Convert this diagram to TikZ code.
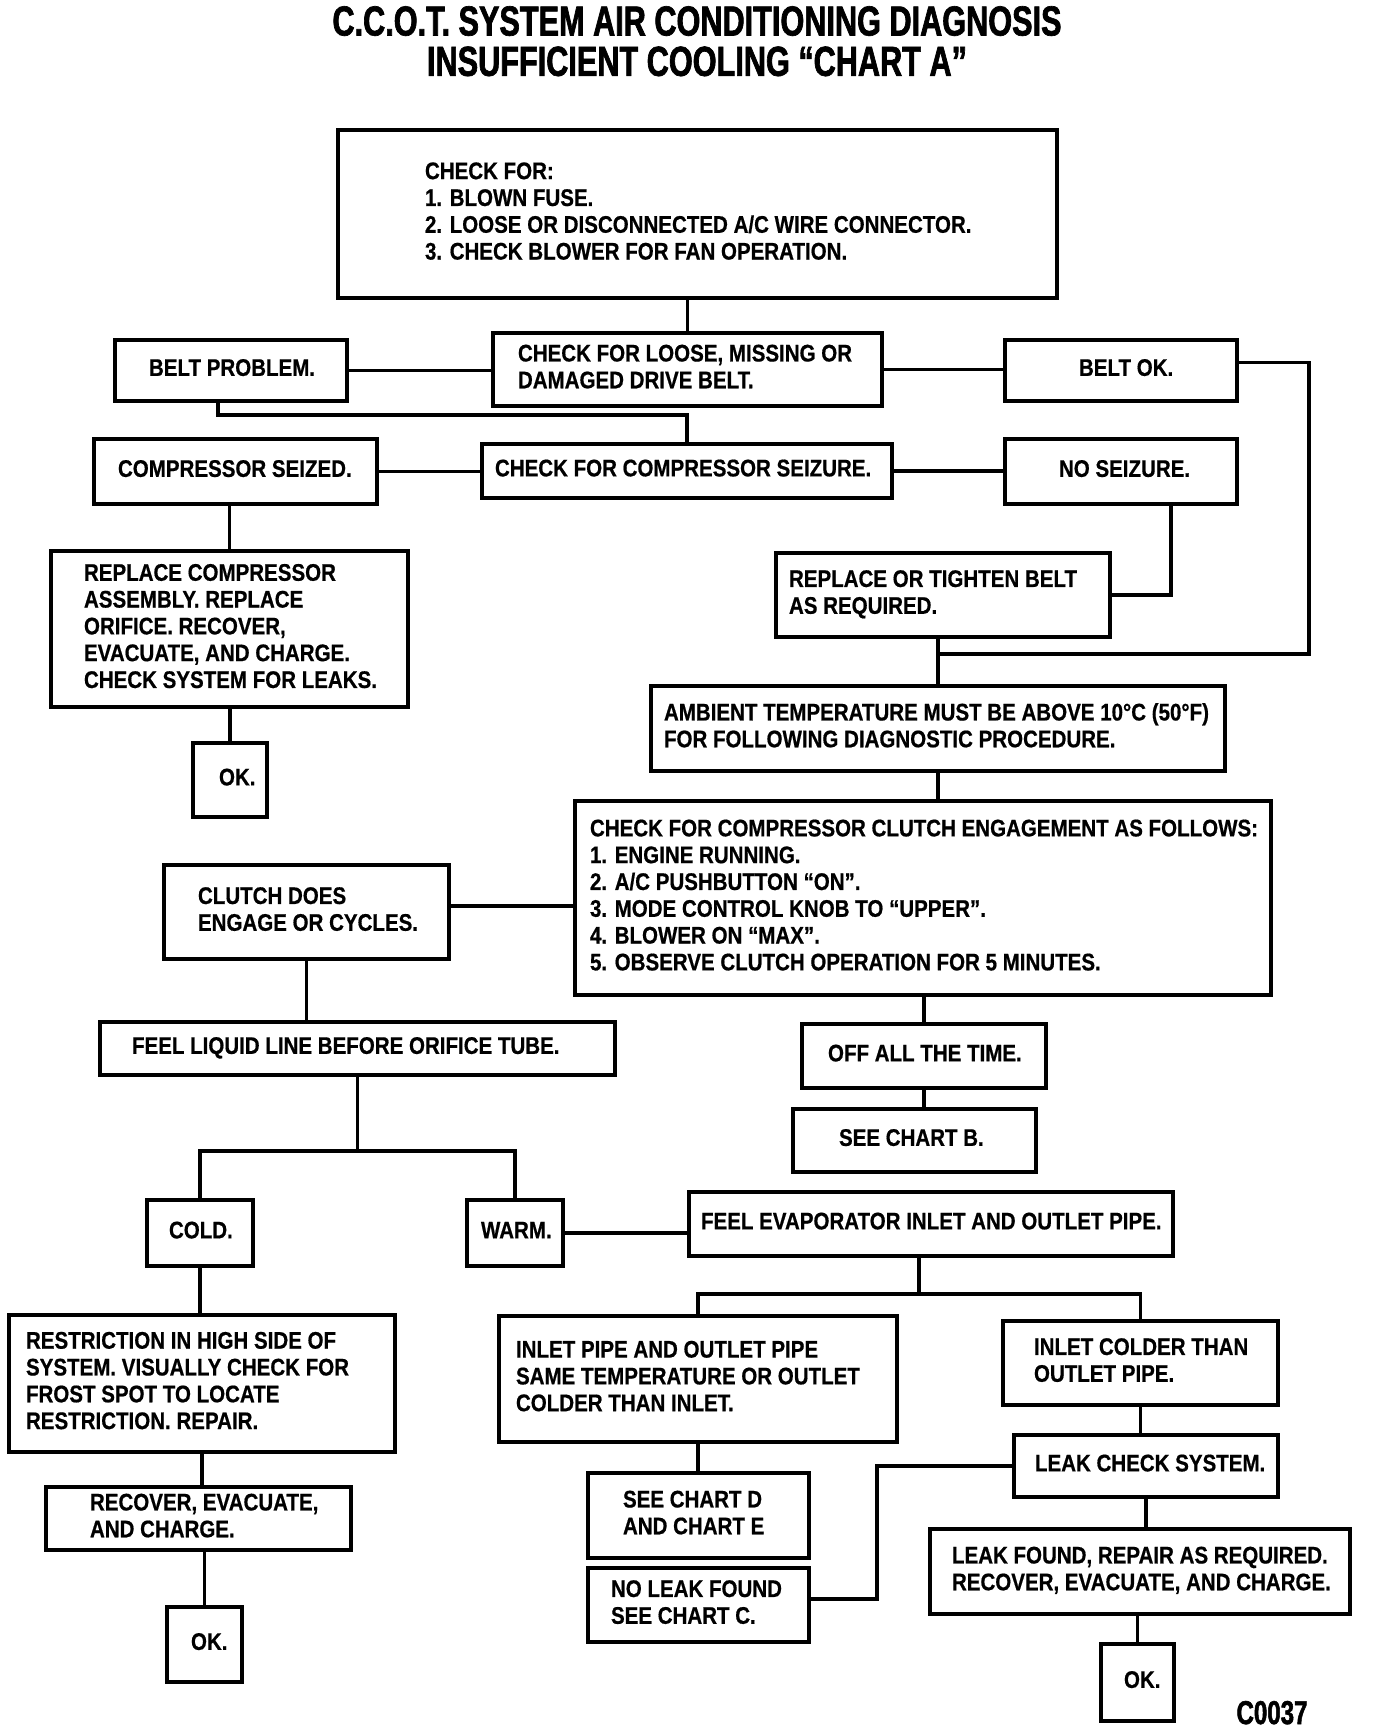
\documentclass[tikz,border=0pt]{standalone}
\usepackage{fontspec}
\newfontfamily\boxfont{Liberation Sans}[FakeStretch=0.855,FakeBold=0.6]
\newfontfamily\titlefont{Liberation Sans}[FakeStretch=0.73,FakeBold=1.6]
\newcommand\flowbox[7]{%
  \pgfmathsetmacro\bxw{#4-#2}%
  \pgfmathsetmacro\bxh{#5-#3}%
  \pgfmathsetmacro\bxcx{(#2+#4)/2}%
  \pgfmathsetmacro\bxcy{(#3+#5)/2}%
  \node[flow, minimum width=\bxw pt, minimum height=\bxh pt] (#1) at (\bxcx,\bxcy)
    {\makebox[\bxw pt][l]{\hspace*{#6pt}\begin{tabular}{@{}l@{}}#7\end{tabular}}};%
}
\begin{document}
\begin{tikzpicture}[x=1pt,y=-1pt,
  flow/.style={draw, line width=3.2pt, inner sep=0pt, font=\boxfont\bfseries\fontsize{24}{26.8}\selectfont},
  conn/.style={line width=3.2pt, line cap=rect},
  every node/.append style={text=black}]
\useasboundingbox (0,0) rectangle (1376,1730);
\fill[white] (0,0) rectangle (1376,1730);

\node[inner sep=0pt, font=\titlefont\bfseries\fontsize{42}{36.6}\selectfont] (title) at (697,46.5)
  {\begin{tabular}{@{}c@{}}C.C.O.T. SYSTEM AIR CONDITIONING DIAGNOSIS\\INSUFFICIENT COOLING “CHART A”\end{tabular}};

\flowbox{top}{338}{130}{1057}{298}{87}{CHECK FOR:\\1. BLOWN FUSE.\\2. LOOSE OR DISCONNECTED A/C WIRE CONNECTOR.\\3. CHECK BLOWER FOR FAN OPERATION.}
\flowbox{beltprob}{115}{340}{347}{401}{34}{BELT PROBLEM.}
\flowbox{chkbelt}{493}{333}{882}{406}{25}{CHECK FOR LOOSE, MISSING OR\\DAMAGED DRIVE BELT.}
\flowbox{beltok}{1005}{340}{1237}{401}{74}{BELT OK.}
\flowbox{compseiz}{94}{439}{377}{504}{24}{COMPRESSOR SEIZED.}
\flowbox{chkseiz}{482}{444}{892}{498}{13}{CHECK FOR COMPRESSOR SEIZURE.}
\flowbox{noseiz}{1005}{439}{1237}{504}{54}{NO SEIZURE.}
\flowbox{replcomp}{51}{551}{408}{707}{33}{REPLACE COMPRESSOR\\ASSEMBLY. REPLACE\\ORIFICE. RECOVER,\\EVACUATE, AND CHARGE.\\CHECK SYSTEM FOR LEAKS.}
\flowbox{okone}{193}{743}{267}{817}{26}{OK.}
\flowbox{replbelt}{776}{553}{1110}{637}{13}{REPLACE OR TIGHTEN BELT\\AS REQUIRED.}
\flowbox{ambient}{651}{686}{1225}{771}{13}{AMBIENT TEMPERATURE MUST BE ABOVE 10°C (50°F)\\FOR FOLLOWING DIAGNOSTIC PROCEDURE.}
\flowbox{clutch}{575}{801}{1271}{995}{15}{CHECK FOR COMPRESSOR CLUTCH ENGAGEMENT AS FOLLOWS:\\1. ENGINE RUNNING.\\2. A/C PUSHBUTTON “ON”.\\3. MODE CONTROL KNOB TO “UPPER”.\\4. BLOWER ON “MAX”.\\5. OBSERVE CLUTCH OPERATION FOR 5 MINUTES.}
\flowbox{clutchdoes}{164}{865}{449}{959}{34}{CLUTCH DOES\\ENGAGE OR CYCLES.}
\flowbox{feelliq}{100}{1022}{615}{1075}{32}{FEEL LIQUID LINE BEFORE ORIFICE TUBE.}
\flowbox{offall}{802}{1024}{1046}{1088}{26}{OFF ALL THE TIME.}
\flowbox{seeb}{793}{1109}{1036}{1172}{46}{SEE CHART B.}
\flowbox{cold}{147}{1200}{253}{1266}{22}{COLD.}
\flowbox{warm}{467}{1200}{563}{1266}{14}{WARM.}
\flowbox{feelevap}{689}{1192}{1173}{1256}{12}{FEEL EVAPORATOR INLET AND OUTLET PIPE.}
\flowbox{restr}{9}{1315}{395}{1452}{17}{RESTRICTION IN HIGH SIDE OF\\SYSTEM. VISUALLY CHECK FOR\\FROST SPOT TO LOCATE\\RESTRICTION. REPAIR.}
\flowbox{inletsame}{499}{1316}{897}{1442}{17}{INLET PIPE AND OUTLET PIPE\\SAME TEMPERATURE OR OUTLET\\COLDER THAN INLET.}
\flowbox{inletcold}{1003}{1321}{1278}{1405}{31}{INLET COLDER THAN\\OUTLET PIPE.}
\flowbox{leakchk}{1014}{1435}{1278}{1497}{21}{LEAK CHECK SYSTEM.}
\flowbox{recov}{46}{1487}{351}{1550}{44}{RECOVER, EVACUATE,\\AND CHARGE.}
\flowbox{seed}{588}{1473}{809}{1558}{35}{SEE CHART D\\AND CHART E}
\flowbox{noleak}{588}{1568}{809}{1642}{23}{NO LEAK FOUND\\SEE CHART C.}
\flowbox{leakfound}{930}{1529}{1350}{1614}{22}{LEAK FOUND, REPAIR AS REQUIRED.\\RECOVER, EVACUATE, AND CHARGE.}
\flowbox{oktwo}{167}{1607}{242}{1682}{24}{OK.}
\flowbox{okthree}{1101}{1644}{1174}{1721}{23}{OK.}

\node[anchor=base west, font=\titlefont\bfseries\fontsize{33}{33}\selectfont] (code) at (1233,1724) {C0037};

% connectors
\coordinate (j1) at (687,415);
\coordinate (j2) at (1309,654);
\coordinate (j3) at (357.5,1151);
\coordinate (j4) at (919,1294);
\coordinate (j5) at (877,1599);

\draw[conn] (chkbelt.north) -- (chkbelt.north |- top.south);
\draw[conn] (beltprob.east) -- (beltprob.east -| chkbelt.west);
\draw[conn] (chkbelt.east) -- (chkbelt.east -| beltok.west);
\draw[conn] ([xshift=-13pt]beltprob.south) |- (j1) -- (j1 |- chkseiz.north);
\draw[conn] (compseiz.east) -- (compseiz.east -| chkseiz.west);
\draw[conn] (chkseiz.east) -- (chkseiz.east -| noseiz.west);
\draw[conn] (replcomp.north) -- (replcomp.north |- compseiz.south);
\draw[conn] (okone.north) -- (okone.north |- replcomp.south);
\draw[conn] ([xshift=50pt]noseiz.south) |- (replbelt.east);
\draw[conn] ([yshift=8pt]beltok.east) -| (j2) -- (j2 -| ambient.north);
\draw[conn] (ambient.north) -- (ambient.north |- replbelt.south);
\draw[conn] (ambient.south) -- (ambient.south |- clutch.north);
\draw[conn] ([yshift=6pt]clutchdoes.east) -- ([yshift=6pt]clutchdoes.east -| clutch.west);
\draw[conn] (clutchdoes.south) -- (clutchdoes.south |- feelliq.north);
\draw[conn] (offall.north) -- (offall.north |- clutch.south);
\draw[conn] (offall.south) -- (offall.south |- seeb.north);
\draw[conn] (j3 |- feelliq.south) -- (j3);
\draw[conn] (cold.north) -- (cold.north |- j3) -- (warm.north |- j3) -- (warm.north);
\draw[conn] (warm.east) -- (warm.east -| feelevap.west);
\draw[conn] (j4 |- feelevap.south) -- (j4);
\draw[conn] (inletsame.north) |- (j4) -| (inletcold.north);
\draw[conn] (inletsame.south) -- (inletsame.south |- seed.north);
\draw[conn] (cold.south) -- (cold.south |- restr.north);
\draw[conn] (restr.south) -- (restr.south |- recov.north);
\draw[conn] (oktwo.north) -- (oktwo.north |- recov.south);
\draw[conn] (inletcold.south) -- (inletcold.south |- leakchk.north);
\draw[conn] (leakchk.west) -| (j5) -- (j5 -| noleak.east);
\draw[conn] (leakchk.south) -- (leakchk.south |- leakfound.north);
\draw[conn] (okthree.north) -- (okthree.north |- leakfound.south);
\end{tikzpicture}
\end{document}
